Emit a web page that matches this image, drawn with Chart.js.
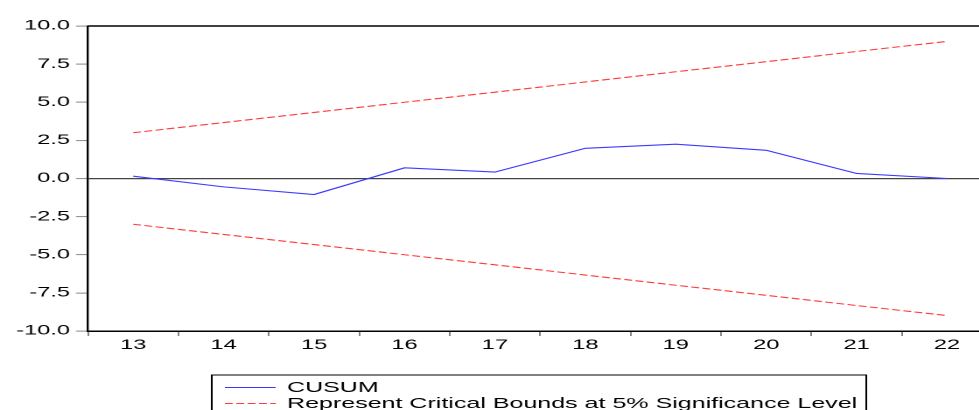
<!DOCTYPE html>
<html>
<head>
<meta charset="utf-8">
<script src="https://cdn.jsdelivr.net/npm/chart.js@4/dist/chart.umd.min.js"></script>
<style>
    html, body { margin: 0; padding: 0; background: #fff; overflow: hidden; }
    /* the reference is an EViews graph stretched sideways, so the canvas is stretched the same way */
    #wrap { position: absolute; left: 0; top: 0; transform: scaleX(1.75); transform-origin: 0 0; }
</style>
</head>
<body>
<div id="wrap"><canvas id="cusumChart" width="575" height="410"></canvas></div>
<script>
const periods = ['13', '14', '15', '16', '17', '18', '19', '20', '21', '22'];
const cusum = [0.15, -0.55, -1.05, 0.7, 0.42, 1.98, 2.25, 1.85, 0.33, 0.0];
const upperBound = [3.0, 3.67, 4.33, 5.0, 5.66, 6.33, 7.0, 7.66, 8.33, 8.99];
const lowerBound = [-3.0, -3.67, -4.33, -5.0, -5.66, -6.33, -7.0, -7.66, -8.33, -8.99];
const legendLabels = ['CUSUM', 'Represent Critical Bounds at 5% Significance Level'];

const FONT = 'Liberation Sans, Arial, sans-serif';

// top frame line of the plot
const frameLine = {
    id: 'frameLine',
    afterDraw(chart) {
        const { ctx, chartArea } = chart;
        ctx.save();
        ctx.strokeStyle = '#000';
        ctx.lineWidth = 1.5;
        ctx.beginPath();
        ctx.moveTo(chartArea.left, chartArea.top);
        ctx.lineTo(chartArea.right, chartArea.top);
        ctx.stroke();
        ctx.restore();
    }
};

// boxed legend under the axis, drawn from the datasets
const boxLegend = {
    id: 'boxLegend',
    afterDraw(chart) {
        const { ctx } = chart;
        const x0 = 121, y0 = 375, rowH = 16;
        ctx.save();
        ctx.strokeStyle = '#000';
        ctx.lineWidth = 1;
        ctx.strokeRect(x0, y0, 374, 60);
        ctx.font = '14.3px ' + FONT;
        ctx.fillStyle = '#000';
        ctx.textBaseline = 'middle';
        let row = 0;
        chart.data.datasets.forEach(ds => {
            if (ds.hideInLegend) return;
            const y = y0 + 12.5 + row * rowH;
            ctx.strokeStyle = ds.borderColor;
            ctx.lineWidth = ds.borderWidth;
            ctx.setLineDash(ds.borderDash || []);
            ctx.beginPath();
            ctx.moveTo(x0 + 7.5, y);
            ctx.lineTo(x0 + 36.5, y);
            ctx.stroke();
            ctx.setLineDash([]);
            ctx.fillText(legendLabels[row], x0 + 43, y + 0.5);
            row++;
        });
        ctx.restore();
    }
};

const ctx = document.getElementById('cusumChart').getContext('2d');
const cusumChart = new Chart(ctx, {
    type: 'line',
    data: {
        labels: periods,
        datasets: [
            {
                data: cusum,
                borderColor: '#3a3aff',
                borderWidth: 1.1,
                pointRadius: 0,
                tension: 0
            },
            {
                data: upperBound,
                borderColor: '#ff3a3a',
                borderWidth: 1.1,
                borderDash: [4.5, 2],
                pointRadius: 0,
                tension: 0
            },
            {
                data: lowerBound,
                borderColor: '#ff3a3a',
                borderWidth: 1.1,
                borderDash: [4.5, 2],
                pointRadius: 0,
                tension: 0,
                hideInLegend: true
            }
        ]
    },
    options: {
        responsive: false,
        devicePixelRatio: 2,
        animation: false,
        layout: { padding: { top: 26, right: 8, bottom: 39, left: 0 } },
        plugins: {
            legend: { display: false },
            tooltip: { enabled: false }
        },
        scales: {
            x: {
                offset: true,
                grid: {
                    offset: true,
                    drawOnChartArea: false,
                    tickLength: 5,
                    tickColor: '#333',
                    tickWidth: 0.6
                },
                border: { display: true, color: '#000', width: 1.5 },
                ticks: {
                    color: '#000',
                    padding: 1,
                    maxRotation: 0,
                    font: { family: FONT, size: 13.5 }
                },
                afterFit(scale) { scale.height = 40; }
            },
            y: {
                min: -10,
                max: 10,
                grid: {
                    color: c => (c.tick && c.tick.value === 0 ? '#444' : 'rgba(0,0,0,0)'),
                    lineWidth: 1.2,
                    tickLength: 6.9,
                    tickColor: '#888',
                    tickWidth: 1
                },
                border: { display: true, color: '#000', width: 1.2 },
                ticks: {
                    stepSize: 2.5,
                    color: '#000',
                    padding: 3.4,
                    font: { family: FONT, size: 13.5 },
                    callback: v => v.toFixed(1)
                },
                afterFit(scale) { scale.width = 50.3; }
            }
        }
    },
    plugins: [frameLine, boxLegend]
});
</script>
</body>
</html>
